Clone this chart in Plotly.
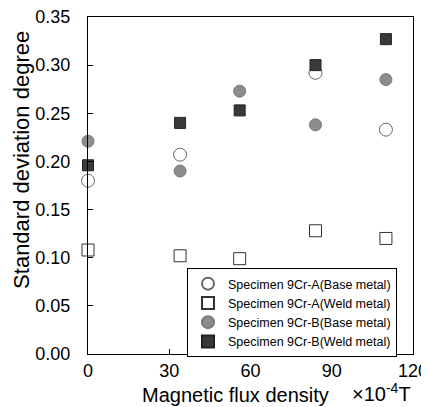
import plotly.graph_objects as go

x_a_base = [0, 34, 84, 110]
y_a_base = [0.180, 0.207, 0.292, 0.233]
x_all = [0, 34, 56, 84, 110]
y_a_weld = [0.108, 0.102, 0.099, 0.128, 0.120]
y_b_base = [0.221, 0.190, 0.273, 0.238, 0.285]
y_b_weld = [0.196, 0.240, 0.253, 0.300, 0.327]

names = ["Specimen 9Cr-A(Base metal)", "Specimen 9Cr-A(Weld metal)",
         "Specimen 9Cr-B(Base metal)", "Specimen 9Cr-B(Weld metal)"]

FONT = "Liberation Sans, Arial, sans-serif"

fig = go.Figure()
fig.add_trace(go.Scatter(x=x_a_base, y=y_a_base, mode="markers", name=names[0],
                         marker=dict(symbol="circle", size=13, color="white",
                                     line=dict(color="#666", width=1)), cliponaxis=False))
fig.add_trace(go.Scatter(x=x_all, y=y_a_weld, mode="markers", name=names[1],
                         marker=dict(symbol="square", size=12, color="white",
                                     line=dict(color="#333", width=1)), cliponaxis=False))
fig.add_trace(go.Scatter(x=x_all, y=y_b_base, mode="markers", name=names[2],
                         marker=dict(symbol="circle", size=12, color="#8c8c8c",
                                     line=dict(color="#777", width=1)), cliponaxis=False))
fig.add_trace(go.Scatter(x=x_all, y=y_b_weld, mode="markers", name=names[3],
                         marker=dict(symbol="square", size=11, color="#3a3a3a",
                                     line=dict(color="#222", width=1)), cliponaxis=False))

# page body has an 8px margin; figure is sized/offset to compensate
fig.update_layout(
    width=421, height=399,
    margin=dict(l=80, r=16, t=9, b=53, autoexpand=False),
    paper_bgcolor="white", plot_bgcolor="white",
    font=dict(family=FONT, color="black", size=18),
    showlegend=True,
    legend=dict(x=(397 - 88) / 325, y=(354 - 268) / 337, xanchor="right", yanchor="top",
                bordercolor="black", borderwidth=1, bgcolor="white",
                font=dict(size=12.5, family=FONT), tracegroupgap=0,
                itemsizing="constant"),
    xaxis=dict(range=[0, 120], tickvals=[0, 30, 60, 90, 120],
               ticks="inside", ticklen=5, tickcolor="black", automargin=False,
               ticklabeloverflow="allow",
               showline=True, linecolor="black", linewidth=1, mirror=True,
               showgrid=False, zeroline=False, tickfont=dict(size=18)),
    yaxis=dict(range=[0, 0.35], tickvals=[0, 0.05, 0.1, 0.15, 0.2, 0.25, 0.3, 0.35],
               tickformat=".2f", automargin=False, ticklabeloverflow="allow",
               ticks="inside", ticklen=5, tickcolor="black",
               showline=True, linecolor="black", linewidth=1, mirror=True,
               showgrid=False, zeroline=False, tickfont=dict(size=18),
               ticklabelstandoff=13),
    annotations=[
        dict(text="Standard deviation degree", textangle=-90, xref="paper", yref="paper",
             x=(22 - 88) / 325, y=0.576, xanchor="center", yanchor="middle", showarrow=False,
             font=dict(size=22, family=FONT)),
        dict(text="Magnetic flux density", xref="paper", yref="paper",
             x=(235 - 88) / 325, y=(354 - 395) / 337, xanchor="center", yanchor="middle",
             showarrow=False, font=dict(size=20, family=FONT)),
        dict(text="×10<sup>-4</sup>T", xref="paper", yref="paper",
             x=1.0, y=(354 - 393) / 337, xanchor="right", yanchor="middle",
             showarrow=False, font=dict(size=20, family=FONT)),
    ],
)

fig.write_html("out.html")
